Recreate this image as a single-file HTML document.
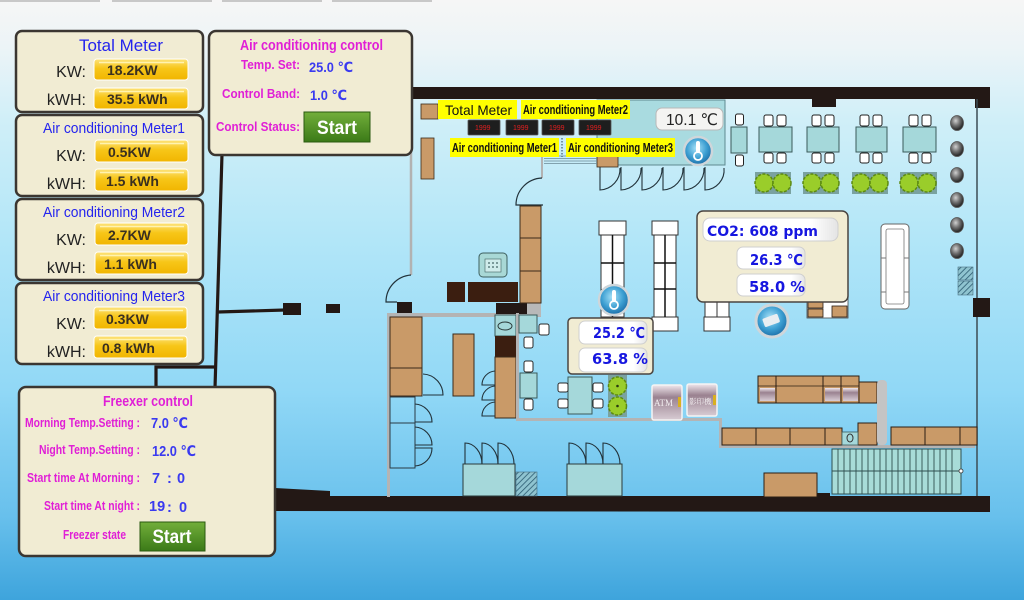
<!DOCTYPE html>
<html><head><meta charset="utf-8">
<style>
html,body{margin:0;padding:0;width:1024px;height:600px;overflow:hidden;background:#bfe9f8;}
svg{display:block;}
text{font-family:"Liberation Sans","DejaVu Sans","Noto Sans CJK SC",sans-serif;}
.dv{font-family:"DejaVu Sans","Liberation Sans","Noto Sans CJK SC",sans-serif;font-weight:bold;}
</style></head><body>
<svg width="1024" height="600" viewBox="0 0 1024 600" xmlns="http://www.w3.org/2000/svg">
<defs>
<linearGradient id="bg" x1="0" y1="0" x2="0" y2="1">
 <stop offset="0" stop-color="#f6f6f6"/>
 <stop offset="0.08" stop-color="#ecf4f7"/>
 <stop offset="0.2" stop-color="#d0eff8"/>
 <stop offset="0.4" stop-color="#b2e6f8"/>
 <stop offset="0.65" stop-color="#91d8f6"/>
 <stop offset="0.86" stop-color="#68c0ec"/>
 <stop offset="1" stop-color="#3ea4dc"/>
</linearGradient>
<linearGradient id="gold" x1="0" y1="0" x2="0" y2="1">
 <stop offset="0" stop-color="#fde27a"/>
 <stop offset="0.45" stop-color="#f7c618"/>
 <stop offset="1" stop-color="#f1b500"/>
</linearGradient>
<linearGradient id="grn" x1="0" y1="0" x2="0" y2="1">
 <stop offset="0" stop-color="#72ae3a"/>
 <stop offset="1" stop-color="#3b7a18"/>
</linearGradient>
<linearGradient id="wbox" x1="0" y1="0" x2="1" y2="0">
 <stop offset="0" stop-color="#ffffff"/>
 <stop offset="0.8" stop-color="#ffffff"/>
 <stop offset="1" stop-color="#e4e4e4"/>
</linearGradient>
<radialGradient id="ball" cx="0.45" cy="0.4" r="0.6">
 <stop offset="0" stop-color="#a8e2f8"/>
 <stop offset="0.6" stop-color="#3d9fd2"/>
 <stop offset="1" stop-color="#1c6ea8"/>
</radialGradient>
<radialGradient id="lamp" cx="0.4" cy="0.35" r="0.65">
 <stop offset="0" stop-color="#d0d0d0"/>
 <stop offset="0.5" stop-color="#707070"/>
 <stop offset="1" stop-color="#202020"/>
</radialGradient>
<linearGradient id="atm" x1="0" y1="0" x2="0" y2="1">
 <stop offset="0" stop-color="#f0e8ee"/>
 <stop offset="0.35" stop-color="#9a8290"/>
 <stop offset="1" stop-color="#d8ccd4"/>
</linearGradient>
<pattern id="hatch" width="4" height="4" patternUnits="userSpaceOnUse" patternTransform="rotate(45)">
 <rect width="4" height="4" fill="#8fc4d0"/>
 <line x1="0" y1="0" x2="0" y2="4" stroke="#2a5a70" stroke-width="1.6"/>
</pattern>
</defs>

<rect width="1024" height="600" fill="url(#bg)"/>

<!-- top tabs -->
<rect x="0" y="0" width="100" height="2" fill="#c8c8c8"/>
<rect x="112" y="0" width="100" height="2" fill="#c8c8c8"/>
<rect x="222" y="0" width="100" height="2" fill="#c8c8c8"/>
<rect x="332" y="0" width="100" height="2" fill="#c8c8c8"/>

<!-- ============ FLOOR PLAN ============ -->
<!-- top wall -->
<rect x="410" y="87" width="580" height="12" fill="#231815"/>
<rect x="975" y="87" width="15" height="21" fill="#231815"/>
<rect x="812" y="98" width="24" height="9" fill="#231815"/>
<!-- right wall -->
<line x1="977" y1="99" x2="977" y2="497" stroke="#3c4c54" stroke-width="1.5"/>
<rect x="973" y="298" width="17" height="19" fill="#231815"/>
<!-- bottom wall -->
<polygon points="275,488 330,491 330,496 990,496 990,512 275,511" fill="#231815"/>
<rect x="805" y="493" width="25" height="4" fill="#231815"/>

<!-- left gray wall with door -->
<line x1="411" y1="99" x2="411" y2="275" stroke="#b2b2b2" stroke-width="2.5"/>
<path d="M411,275 A27,27 0 0 0 386,302 L397,302" fill="none" stroke="#22323a" stroke-width="1.2"/>
<rect x="397" y="302" width="15" height="12" fill="#231815"/>
<rect x="387" y="313" width="154" height="4" fill="#b4b4b4"/>
<rect x="387" y="313" width="3" height="184" fill="#b4b4b4"/>
<rect x="496" y="303" width="31" height="11" fill="#231815"/>
<rect x="527" y="303" width="14" height="13" fill="#b8b8b8"/>

<!-- top teal room -->
<rect x="597" y="100" width="128" height="65" fill="#a9dbe0" stroke="#5e8a90" stroke-width="1"/>
<rect x="597" y="156" width="21" height="11" fill="#c99a68" stroke="#3a2a1a" stroke-width="0.8"/>
<g fill="none" stroke="#22323a" stroke-width="1.1">
 <path d="M600,167 L600,190 A21,21 0 0 0 620,168"/>
 <path d="M621,167 L621,190 A21,21 0 0 0 641,168"/>
 <path d="M642,167 L642,190 A21,21 0 0 0 662,168"/>
 <path d="M663,167 L663,190 A21,21 0 0 0 683,168"/>
 <path d="M684,167 L684,190 A21,21 0 0 0 704,168"/>
 <path d="M705,167 L705,190 A20,20 0 0 0 724,168"/>
</g>
<!-- vent -->
<g stroke="#6a8a96" stroke-width="0.8">
 <line x1="544" y1="156" x2="597" y2="156"/>
 <line x1="544" y1="158.5" x2="597" y2="158.5"/>
 <line x1="544" y1="161" x2="597" y2="161"/>
 <line x1="544" y1="163.5" x2="597" y2="163.5"/>
</g>
<line x1="542" y1="150" x2="542" y2="178" stroke="#b2b2b2" stroke-width="2"/>
<path d="M542,178 A27,27 0 0 0 516,205 L543,205" fill="none" stroke="#22323a" stroke-width="1.2"/>
<!-- brown left blocks top -->
<rect x="421" y="104" width="17" height="15" fill="#c99a68" stroke="#3a2a1a" stroke-width="0.8"/>
<rect x="421" y="138" width="13" height="41" fill="#c99a68" stroke="#3a2a1a" stroke-width="0.8"/>

<!-- cabinets column -->
<rect x="520" y="206" width="21" height="32" fill="#c99a68" stroke="#3a2a1a" stroke-width="1"/>
<rect x="520" y="238" width="21" height="33" fill="#c99a68" stroke="#3a2a1a" stroke-width="1"/>
<rect x="520" y="271" width="21" height="32" fill="#c99a68" stroke="#3a2a1a" stroke-width="1"/>
<!-- desk -->
<rect x="447" y="282" width="18" height="20" fill="#3b1e10"/>
<rect x="468" y="282" width="50" height="20" fill="#3b1e10"/>
<!-- phone -->
<rect x="479" y="253" width="28" height="24" rx="4" fill="#a8d8d6" stroke="#3e6060" stroke-width="1"/>
<rect x="485" y="259" width="16" height="13" fill="#cfeceb" stroke="#3e6060" stroke-width="0.6"/>
<g fill="#3e6060"><circle cx="489" cy="263" r="0.9"/><circle cx="493" cy="263" r="0.9"/><circle cx="497" cy="263" r="0.9"/><circle cx="489" cy="267" r="0.9"/><circle cx="493" cy="267" r="0.9"/><circle cx="497" cy="267" r="0.9"/></g>

<!-- left rooms -->
<rect x="390" y="317" width="32" height="51" fill="#c99a68" stroke="#3a2a1a" stroke-width="1"/>
<rect x="390" y="368" width="32" height="28" fill="#c99a68" stroke="#3a2a1a" stroke-width="1"/>
<path d="M423,374 A21,21 0 0 1 443,395 L423,395" fill="none" stroke="#22323a" stroke-width="1.1"/>
<rect x="390" y="397" width="25" height="26" fill="none" stroke="#2a3a44" stroke-width="1"/>
<rect x="390" y="423" width="25" height="45" fill="none" stroke="#2a3a44" stroke-width="1"/>
<g fill="none" stroke="#22323a" stroke-width="1.1">
 <path d="M415,404 A18,18 0 0 1 432,422 L415,422"/>
 <path d="M415,427 A18,18 0 0 1 432,445 L415,445"/>
 <path d="M415,466 A18,18 0 0 0 432,448 L415,448"/>
</g>
<rect x="453" y="334" width="21" height="62" fill="#c99a68" stroke="#3a2a1a" stroke-width="1"/>

<!-- column with toilet -->
<rect x="495" y="315" width="21" height="21" fill="#a5d8da" stroke="#3a5a5a" stroke-width="1"/>
<ellipse cx="505" cy="326" rx="7" ry="4" fill="none" stroke="#2a3a3a" stroke-width="1"/>
<rect x="495" y="336" width="21" height="21" fill="#3b1e10"/>
<rect x="495" y="357" width="21" height="61" fill="#c99a68" stroke="#3a2a1a" stroke-width="1"/>
<g fill="none" stroke="#22323a" stroke-width="1.1">
 <path d="M495,371 A14,14 0 0 0 482,385 L495,385"/>
 <path d="M495,386 A14,14 0 0 0 482,400 L495,400"/>
 <path d="M495,402 A14,14 0 0 0 482,416 L495,416"/>
</g>
<rect x="516" y="313" width="3" height="108" fill="#b4b4b4"/>
<rect x="516" y="418" width="204" height="3" fill="#b4b4b4"/>
<rect x="719" y="418" width="3" height="30" fill="#b4b4b4"/>
<rect x="719" y="445" width="256" height="3" fill="#b4b4b4"/>

<!-- small tables and chairs -->
<g fill="#a5d8da" stroke="#3a5a5a" stroke-width="1">
 <rect x="519" y="315" width="18" height="18"/>
 <rect x="520" y="373" width="17" height="25"/>
 <rect x="568" y="377" width="24" height="37"/>
</g>
<g fill="#ffffff" stroke="#2a2a2a" stroke-width="1">
 <rect x="539" y="324" width="10" height="11" rx="2"/>
 <rect x="524" y="337" width="9" height="11" rx="2"/>
 <rect x="524" y="361" width="9" height="11" rx="2"/>
 <rect x="524" y="399" width="9" height="11" rx="2"/>
 <rect x="558" y="383" width="10" height="9" rx="2"/>
 <rect x="558" y="399" width="10" height="9" rx="2"/>
 <rect x="593" y="383" width="10" height="9" rx="2"/>
 <rect x="593" y="399" width="10" height="9" rx="2"/>
</g>
<!-- plants small -->
<rect x="608" y="375" width="19" height="42" fill="#7aa2a0"/>
<g fill="#9acd2a" stroke="#5c8a12" stroke-width="1.5" stroke-dasharray="3 1.5">
 <circle cx="617.5" cy="386" r="9"/>
 <circle cx="617.5" cy="406" r="9"/>
</g>
<circle cx="617.5" cy="386" r="1.3" fill="#2a3a10"/>
<circle cx="617.5" cy="406" r="1.3" fill="#2a3a10"/>

<!-- glass cases -->
<g fill="#ffffff" stroke="#333" stroke-width="1">
 <rect x="601" y="235" width="23" height="82"/>
 <rect x="599" y="221" width="27" height="14"/>
 <rect x="654" y="235" width="22" height="82"/>
 <rect x="652" y="221" width="26" height="14"/>
 <rect x="652" y="317" width="26" height="14"/>
</g>
<g stroke="#111" stroke-width="1.5">
 <line x1="612.5" y1="235" x2="612.5" y2="317"/>
 <line x1="601" y1="263" x2="624" y2="263"/>
 <line x1="601" y1="290" x2="624" y2="290"/>
 <line x1="665" y1="235" x2="665" y2="317"/>
 <line x1="654" y1="263" x2="676" y2="263"/>
 <line x1="654" y1="289" x2="676" y2="289"/>
</g>
<!-- thermometer icon 1 -->
<circle cx="614" cy="300" r="15" fill="url(#ball)" stroke="#cfd6da" stroke-width="2.5"/>
<rect x="612" y="290" width="4" height="12" rx="2" fill="#fff"/>
<circle cx="614" cy="305" r="4" fill="none" stroke="#fff" stroke-width="1.8"/>

<!-- small sensor panel -->
<rect x="568" y="318" width="85" height="56" rx="4" fill="#f1ecd3" stroke="#4a4440" stroke-width="1.5"/>
<rect x="579" y="321" width="68" height="23" rx="6" fill="url(#wbox)" stroke="#cfcfcf" stroke-width="1"/>
<rect x="579" y="348" width="68" height="24" rx="6" fill="url(#wbox)" stroke="#cfcfcf" stroke-width="1"/>
<text x="593" y="338" class="dv" font-size="15" fill="#1616e0" textLength="52" lengthAdjust="spacingAndGlyphs">25.2 ℃</text>
<text x="592" y="364" class="dv" font-size="15" fill="#1616e0" textLength="56" lengthAdjust="spacingAndGlyphs">63.8 %</text>

<!-- ATM & copier -->
<rect x="652" y="385" width="30" height="35" rx="2" fill="url(#atm)" stroke="#f4f4f4" stroke-width="1.5"/>
<rect x="678" y="397" width="3" height="10" fill="#d8b020"/>
<text x="654" y="406" font-size="9" fill="#f2eef0" font-family="Liberation Serif,serif" style="font-family:'Liberation Serif',serif">ATM</text>
<rect x="687" y="384" width="30" height="32" rx="2" fill="url(#atm)" stroke="#f4f4f4" stroke-width="1.5"/>
<rect x="713" y="395" width="3" height="10" fill="#d8b020"/>
<text x="689" y="404" font-size="7.5" fill="#f2eef0" style="font-family:'Noto Serif CJK SC','Noto Sans CJK SC',serif">影印機</text>

<!-- counters -->
<g fill="#c99a68" stroke="#2a1e14" stroke-width="1">
 <rect x="758" y="376" width="18" height="27"/>
 <rect x="776" y="376" width="47" height="27"/>
 <rect x="823" y="376" width="18" height="27"/>
 <rect x="841" y="376" width="18" height="27"/>
 <rect x="859" y="382" width="18" height="21"/>
 <rect x="722" y="428" width="34" height="17"/>
 <rect x="756" y="428" width="34" height="17"/>
 <rect x="790" y="428" width="35" height="17"/>
 <rect x="825" y="428" width="17" height="17"/>
 <rect x="858" y="423" width="19" height="22"/>
 <rect x="891" y="427" width="34" height="18"/>
 <rect x="925" y="427" width="35" height="18"/>
 <rect x="960" y="427" width="17" height="18"/>
 <rect x="764" y="473" width="53" height="24"/>
</g>
<line x1="758" y1="386" x2="859" y2="386" stroke="#2a1e14" stroke-width="0.8"/>
<g fill="url(#atm)">
 <rect x="760" y="388" width="15" height="13"/>
 <rect x="825" y="388" width="15" height="13"/>
 <rect x="843" y="388" width="15" height="13"/>
</g>
<rect x="842" y="432" width="16" height="13" fill="#a5d8da" stroke="#3a5a5a" stroke-width="0.8"/>
<ellipse cx="850" cy="438" rx="3" ry="4" fill="none" stroke="#333" stroke-width="1"/>
<rect x="877" y="380" width="10" height="65" rx="4" fill="#c4c4c4"/>

<!-- stairs -->
<rect x="832" y="449" width="129" height="45" fill="#a8dcd8" stroke="#2f5050" stroke-width="1"/>
<g stroke="#2f5050" stroke-width="0.9">
 <line x1="838" y1="449" x2="838" y2="494"/><line x1="844" y1="449" x2="844" y2="494"/>
 <line x1="850" y1="449" x2="850" y2="494"/><line x1="856" y1="449" x2="856" y2="494"/>
 <line x1="862" y1="449" x2="862" y2="494"/><line x1="868" y1="449" x2="868" y2="494"/>
 <line x1="874" y1="449" x2="874" y2="494"/><line x1="880" y1="449" x2="880" y2="494"/>
 <line x1="886" y1="449" x2="886" y2="494"/><line x1="892" y1="449" x2="892" y2="494"/>
 <line x1="898" y1="449" x2="898" y2="494"/><line x1="904" y1="449" x2="904" y2="494"/>
 <line x1="910" y1="449" x2="910" y2="494"/><line x1="916" y1="449" x2="916" y2="494"/>
 <line x1="922" y1="449" x2="922" y2="494"/><line x1="928" y1="449" x2="928" y2="494"/>
 <line x1="934" y1="449" x2="934" y2="494"/><line x1="940" y1="449" x2="940" y2="494"/>
 <line x1="946" y1="449" x2="946" y2="494"/><line x1="952" y1="449" x2="952" y2="494"/>
 <line x1="832" y1="471" x2="961" y2="471"/>
</g>
<circle cx="961" cy="471" r="2" fill="#fff" stroke="#333" stroke-width="0.8"/>

<!-- bottom cases -->
<rect x="463" y="464" width="52" height="32" fill="#a5d8da" stroke="#2a3a3a" stroke-width="1"/>
<rect x="567" y="464" width="55" height="32" fill="#a5d8da" stroke="#2a3a3a" stroke-width="1"/>
<g fill="none" stroke="#22323a" stroke-width="1.1">
 <path d="M465,464 L465,443 A17,21 0 0 1 482,464"/>
 <path d="M482,464 L482,443 A16,21 0 0 1 498,464"/>
 <path d="M498,464 L498,443 A16,21 0 0 1 514,464"/>
 <path d="M569,464 L569,443 A17,21 0 0 1 586,464"/>
 <path d="M586,464 L586,443 A17,21 0 0 1 603,464"/>
 <path d="M603,464 L603,443 A17,21 0 0 1 620,464"/>
</g>
<rect x="516" y="472" width="21" height="24" fill="url(#hatch)" stroke="#4a7080" stroke-width="0.6"/>

<!-- dining area -->
<g fill="#a5d8da" stroke="#3a5a5a" stroke-width="1">
 <rect x="731" y="127" width="16" height="26"/>
 <rect x="759" y="127" width="33" height="25"/>
 <rect x="807" y="127" width="32" height="25"/>
 <rect x="856" y="127" width="31" height="25"/>
 <rect x="903" y="127" width="33" height="25"/>
</g>
<g fill="#ffffff" stroke="#222" stroke-width="1">
 <rect x="735.5" y="114" width="8" height="11" rx="2"/><rect x="735.5" y="155" width="8" height="11" rx="2"/>
 <rect x="764" y="115" width="9" height="11" rx="2"/><rect x="777" y="115" width="9" height="11" rx="2"/>
 <rect x="764" y="153" width="9" height="10" rx="2"/><rect x="777" y="153" width="9" height="10" rx="2"/>
 <rect x="812" y="115" width="9" height="11" rx="2"/><rect x="825" y="115" width="9" height="11" rx="2"/>
 <rect x="812" y="153" width="9" height="10" rx="2"/><rect x="825" y="153" width="9" height="10" rx="2"/>
 <rect x="860" y="115" width="9" height="11" rx="2"/><rect x="873" y="115" width="9" height="11" rx="2"/>
 <rect x="860" y="153" width="9" height="10" rx="2"/><rect x="873" y="153" width="9" height="10" rx="2"/>
 <rect x="909" y="115" width="9" height="11" rx="2"/><rect x="922" y="115" width="9" height="11" rx="2"/>
 <rect x="909" y="153" width="9" height="10" rx="2"/><rect x="922" y="153" width="9" height="10" rx="2"/>
</g>
<g fill="#7aa2a0">
 <rect x="755" y="172" width="36" height="22"/><rect x="803" y="172" width="36" height="22"/>
 <rect x="852" y="172" width="36" height="22"/><rect x="900" y="172" width="37" height="22"/>
</g>
<g fill="#9acd2a" stroke="#5c8a12" stroke-width="1.5" stroke-dasharray="3 1.5">
 <circle cx="764" cy="183" r="9"/><circle cx="782" cy="183" r="9"/>
 <circle cx="812" cy="183" r="9"/><circle cx="830" cy="183" r="9"/>
 <circle cx="861" cy="183" r="9"/><circle cx="879" cy="183" r="9"/>
 <circle cx="909" cy="183" r="9"/><circle cx="927" cy="183" r="9"/>
</g>
<!-- lamps -->
<g fill="url(#lamp)" stroke="#555" stroke-width="0.8">
 <ellipse cx="957" cy="123" rx="6.5" ry="7.5"/><ellipse cx="957" cy="149" rx="6.5" ry="7.5"/>
 <ellipse cx="957" cy="175" rx="6.5" ry="7.5"/><ellipse cx="957" cy="200" rx="6.5" ry="7.5"/>
 <ellipse cx="957" cy="225" rx="6.5" ry="7.5"/><ellipse cx="957" cy="251" rx="6.5" ry="7.5"/>
</g>
<rect x="958" y="267" width="15" height="13" fill="url(#hatch)" stroke="#4a7080" stroke-width="0.6"/>
<rect x="958" y="281" width="15" height="14" fill="url(#hatch)" stroke="#4a7080" stroke-width="0.6"/>
<!-- lounge -->
<rect x="881" y="224" width="28" height="85" rx="4" fill="#ffffff" stroke="#666" stroke-width="1"/>
<rect x="886" y="229" width="18" height="75" rx="2" fill="#ffffff" stroke="#777" stroke-width="0.8"/>
<line x1="881" y1="258" x2="886" y2="258" stroke="#777"/><line x1="904" y1="258" x2="909" y2="258" stroke="#777"/>
<line x1="881" y1="292" x2="886" y2="292" stroke="#777"/><line x1="904" y1="292" x2="909" y2="292" stroke="#777"/>

<!-- under CO2 panel -->
<g fill="#ffffff" stroke="#333" stroke-width="1">
 <rect x="705" y="300" width="12" height="17"/><rect x="717" y="300" width="12" height="17"/>
 <rect x="704" y="317" width="26" height="14"/>
</g>
<rect x="807" y="298" width="41" height="20" fill="#ffffff" stroke="#444" stroke-width="0.8"/>
<g fill="#c99a68" stroke="#2a1e14" stroke-width="0.8">
 <rect x="808" y="301" width="15" height="7"/><rect x="808" y="309" width="15" height="8"/>
 <rect x="832" y="306" width="15" height="11"/>
</g>
<!-- AC icon -->
<circle cx="772" cy="321" r="16" fill="url(#ball)" stroke="#cfd6da" stroke-width="3"/>
<rect x="763" y="316" width="16" height="9" rx="1.5" fill="#e8eef2" transform="rotate(-20 771 320)"/>

<!-- CO2 panel -->
<rect x="697" y="211" width="151" height="91" rx="6" fill="#f1ecd3" stroke="#4a4440" stroke-width="1.5"/>
<rect x="703" y="218" width="135" height="23" rx="7" fill="url(#wbox)" stroke="#cfcfcf" stroke-width="1"/>
<rect x="737" y="247" width="68" height="22" rx="6" fill="url(#wbox)" stroke="#cfcfcf" stroke-width="1"/>
<rect x="737" y="274" width="68" height="22" rx="6" fill="url(#wbox)" stroke="#cfcfcf" stroke-width="1"/>
<text x="707" y="236" class="dv" font-size="14.5" fill="#1616e0" textLength="111" lengthAdjust="spacingAndGlyphs">CO2: 608 ppm</text>
<text x="750" y="265" class="dv" font-size="15" fill="#1616e0" textLength="53" lengthAdjust="spacingAndGlyphs">26.3 ℃</text>
<text x="749" y="292" class="dv" font-size="15" fill="#1616e0" textLength="56" lengthAdjust="spacingAndGlyphs">58.0 %</text>

<!-- 10.1 box and thermometer -->
<rect x="656" y="108" width="67" height="22" rx="6" fill="#f4f4f2" stroke="#b8b8b8" stroke-width="1"/>
<text x="666" y="125" font-size="16" fill="#222" textLength="52" lengthAdjust="spacingAndGlyphs">10.1 ℃</text>
<circle cx="698" cy="151" r="14" fill="url(#ball)" stroke="#cfd6da" stroke-width="2.5"/>
<rect x="696" y="141" width="4" height="12" rx="2" fill="#fff"/>
<circle cx="698" cy="156" r="4" fill="none" stroke="#fff" stroke-width="1.8"/>

<!-- meter devices -->
<g fill="#1e1e1e" stroke="#555" stroke-width="0.8">
 <rect x="468" y="120" width="32" height="15" rx="1"/>
 <rect x="506" y="120" width="32" height="15" rx="1"/>
 <rect x="542" y="120" width="32" height="15" rx="1"/>
 <rect x="579" y="120" width="32" height="15" rx="1"/>
</g>
<g font-size="7" fill="#e02020">
 <text x="475" y="130">1999</text><text x="513" y="130">1999</text>
 <text x="549" y="130">1999</text><text x="586" y="130">1999</text>
</g>
<!-- yellow labels -->
<rect x="438" y="100" width="79" height="19" fill="#ffff00"/>
<text x="445" y="115" font-size="14" fill="#111" textLength="67" lengthAdjust="spacingAndGlyphs">Total Meter</text>
<rect x="521" y="100" width="109" height="19" fill="#ffff00"/>
<text x="523" y="114" font-size="13" font-weight="bold" fill="#111" textLength="105" lengthAdjust="spacingAndGlyphs">Air conditioning Meter2</text>
<rect x="450" y="138" width="109" height="19" fill="#ffff00"/>
<text x="452" y="152" font-size="13" font-weight="bold" fill="#111" textLength="105" lengthAdjust="spacingAndGlyphs">Air conditioning Meter1</text>
<line x1="562" y1="138" x2="562" y2="157" stroke="#5a7a8a" stroke-width="1.5" stroke-dasharray="1.5 1.5"/>
<rect x="566" y="138" width="109" height="19" fill="#ffff00"/>
<text x="568" y="152" font-size="13" font-weight="bold" fill="#111" textLength="105" lengthAdjust="spacingAndGlyphs">Air conditioning Meter3</text>

<!-- ============ CONNECTORS ============ -->
<g stroke="#231815" stroke-width="3.2" fill="none">
 <line x1="222" y1="154" x2="215" y2="388"/>
 <line x1="218" y1="312" x2="285" y2="310"/>
 <polyline points="215,367 156,367 156,388"/>
</g>
<rect x="283" y="303" width="18" height="12" fill="#231815"/>
<rect x="326" y="304" width="14" height="9" fill="#231815"/>

<!-- ============ LEFT PANELS ============ -->
<!-- Total meter -->
<rect x="16" y="31" width="187" height="81" rx="6" fill="#f1ecd3" stroke="#3b3631" stroke-width="2.5"/>
<text x="121" y="51" font-size="17" fill="#2424ee" text-anchor="middle" textLength="84" lengthAdjust="spacingAndGlyphs">Total Meter</text>
<text x="86" y="77" font-size="16" fill="#222" text-anchor="end">KW:</text>
<text x="86" y="105" font-size="16" fill="#222" text-anchor="end">kWH:</text>
<rect x="94" y="59" width="94" height="21" rx="3" fill="url(#gold)" stroke="#fff" stroke-width="1"/>
<line x1="99" y1="62.5" x2="184" y2="62.5" stroke="#fff3b0" stroke-width="1.4"/>
<text x="107" y="75" font-size="14" font-weight="bold" fill="#3a3020">18.2KW</text>
<rect x="94" y="88" width="94" height="21" rx="3" fill="url(#gold)" stroke="#fff" stroke-width="1"/>
<line x1="99" y1="91.5" x2="184" y2="91.5" stroke="#fff3b0" stroke-width="1.4"/>
<text x="107" y="104" font-size="14" font-weight="bold" fill="#3a3020">35.5 kWh</text>

<!-- Meter1 -->
<rect x="16" y="115" width="187" height="81" rx="6" fill="#f1ecd3" stroke="#3b3631" stroke-width="2.5"/>
<text x="43" y="133" font-size="14.5" fill="#2424ee" textLength="142" lengthAdjust="spacingAndGlyphs">Air conditioning Meter1</text>
<text x="86" y="161" font-size="16" fill="#222" text-anchor="end">KW:</text>
<text x="86" y="189" font-size="16" fill="#222" text-anchor="end">kWH:</text>
<rect x="95" y="140" width="93" height="22" rx="3" fill="url(#gold)" stroke="#fff" stroke-width="1"/>
<line x1="100" y1="143.5" x2="184" y2="143.5" stroke="#fff3b0" stroke-width="1.4"/>
<text x="108" y="157" font-size="14" font-weight="bold" fill="#3a3020">0.5KW</text>
<rect x="95" y="169" width="93" height="22" rx="3" fill="url(#gold)" stroke="#fff" stroke-width="1"/>
<line x1="100" y1="172.5" x2="184" y2="172.5" stroke="#fff3b0" stroke-width="1.4"/>
<text x="106" y="186" font-size="14" font-weight="bold" fill="#3a3020">1.5 kWh</text>

<!-- Meter2 -->
<rect x="16" y="199" width="187" height="81" rx="6" fill="#f1ecd3" stroke="#3b3631" stroke-width="2.5"/>
<text x="43" y="217" font-size="14.5" fill="#2424ee" textLength="142" lengthAdjust="spacingAndGlyphs">Air conditioning Meter2</text>
<text x="86" y="245" font-size="16" fill="#222" text-anchor="end">KW:</text>
<text x="86" y="273" font-size="16" fill="#222" text-anchor="end">kWH:</text>
<rect x="95" y="223" width="93" height="22" rx="3" fill="url(#gold)" stroke="#fff" stroke-width="1"/>
<line x1="100" y1="226.5" x2="184" y2="226.5" stroke="#fff3b0" stroke-width="1.4"/>
<text x="108" y="240" font-size="14" font-weight="bold" fill="#3a3020">2.7KW</text>
<rect x="95" y="252" width="93" height="22" rx="3" fill="url(#gold)" stroke="#fff" stroke-width="1"/>
<line x1="100" y1="255.5" x2="184" y2="255.5" stroke="#fff3b0" stroke-width="1.4"/>
<text x="104" y="269" font-size="14" font-weight="bold" fill="#3a3020">1.1 kWh</text>

<!-- Meter3 -->
<rect x="16" y="283" width="187" height="81" rx="6" fill="#f1ecd3" stroke="#3b3631" stroke-width="2.5"/>
<text x="43" y="301" font-size="14.5" fill="#2424ee" textLength="142" lengthAdjust="spacingAndGlyphs">Air conditioning Meter3</text>
<text x="86" y="329" font-size="16" fill="#222" text-anchor="end">KW:</text>
<text x="86" y="357" font-size="16" fill="#222" text-anchor="end">kWH:</text>
<rect x="94" y="307" width="93" height="22" rx="3" fill="url(#gold)" stroke="#fff" stroke-width="1"/>
<line x1="99" y1="310.5" x2="183" y2="310.5" stroke="#fff3b0" stroke-width="1.4"/>
<text x="106" y="324" font-size="14" font-weight="bold" fill="#3a3020">0.3KW</text>
<rect x="94" y="336" width="93" height="22" rx="3" fill="url(#gold)" stroke="#fff" stroke-width="1"/>
<line x1="99" y1="339.5" x2="183" y2="339.5" stroke="#fff3b0" stroke-width="1.4"/>
<text x="102" y="353" font-size="14" font-weight="bold" fill="#3a3020">0.8 kWh</text>

<!-- AC control -->
<rect x="209" y="31" width="203" height="124" rx="7" fill="#f1ecd3" stroke="#3b3631" stroke-width="2.5"/>
<text x="240" y="50" font-size="15" font-weight="bold" fill="#e01fd6" textLength="143" lengthAdjust="spacingAndGlyphs">Air conditioning control</text>
<text x="241" y="69" font-size="13" font-weight="bold" fill="#e01fd6" textLength="59" lengthAdjust="spacingAndGlyphs">Temp. Set:</text>
<text x="309" y="72" font-size="14" font-weight="bold" fill="#3a3af0" textLength="44" lengthAdjust="spacingAndGlyphs">25.0 ℃</text>
<text x="222" y="98" font-size="13" font-weight="bold" fill="#e01fd6" textLength="78" lengthAdjust="spacingAndGlyphs">Control Band:</text>
<text x="310" y="100" font-size="14" font-weight="bold" fill="#3a3af0" textLength="37" lengthAdjust="spacingAndGlyphs">1.0 ℃</text>
<text x="216" y="131" font-size="13" font-weight="bold" fill="#e01fd6" textLength="84" lengthAdjust="spacingAndGlyphs">Control Status:</text>
<rect x="304" y="112" width="66" height="30" fill="url(#grn)" stroke="#2a5a10" stroke-width="1"/>
<text x="337" y="134" font-size="19" font-weight="bold" fill="#ffffff" text-anchor="middle" textLength="40" lengthAdjust="spacingAndGlyphs">Start</text>

<!-- Freezer control -->
<rect x="19" y="387" width="256" height="169" rx="7" fill="#f1ecd3" stroke="#3b3631" stroke-width="2.5"/>
<text x="103" y="406" font-size="15" font-weight="bold" fill="#e01fd6" textLength="90" lengthAdjust="spacingAndGlyphs">Freexer control</text>
<g font-size="13" font-weight="bold" fill="#e01fd6" text-anchor="end">
 <text x="140" y="427" textLength="115" lengthAdjust="spacingAndGlyphs">Morning Temp.Setting :</text>
 <text x="140" y="454" textLength="101" lengthAdjust="spacingAndGlyphs">Night Temp.Setting :</text>
 <text x="140" y="482" textLength="113" lengthAdjust="spacingAndGlyphs">Start time At Morning :</text>
 <text x="140" y="510" textLength="96" lengthAdjust="spacingAndGlyphs">Start time At night :</text>
</g>
<text x="63" y="539" font-size="13" font-weight="bold" fill="#e01fd6" textLength="63" lengthAdjust="spacingAndGlyphs">Freezer state</text>
<g font-size="14.5" fill="#3a3af0" font-weight="bold">
 <text x="151" y="428" textLength="37" lengthAdjust="spacingAndGlyphs">7.0 ℃</text>
 <text x="152" y="456" textLength="44" lengthAdjust="spacingAndGlyphs">12.0 ℃</text>
 <text x="152" y="483">7</text>
 <text x="167" y="483">:</text>
 <text x="177" y="483">0</text>
 <text x="149" y="511">19</text>
 <text x="167" y="512">:</text>
 <text x="179" y="512">0</text>
</g>
<rect x="140" y="522" width="65" height="29" fill="url(#grn)" stroke="#2a5a10" stroke-width="1"/>
<text x="172" y="543" font-size="19" font-weight="bold" fill="#ffffff" text-anchor="middle" textLength="39" lengthAdjust="spacingAndGlyphs">Start</text>
</svg>
</body></html>
